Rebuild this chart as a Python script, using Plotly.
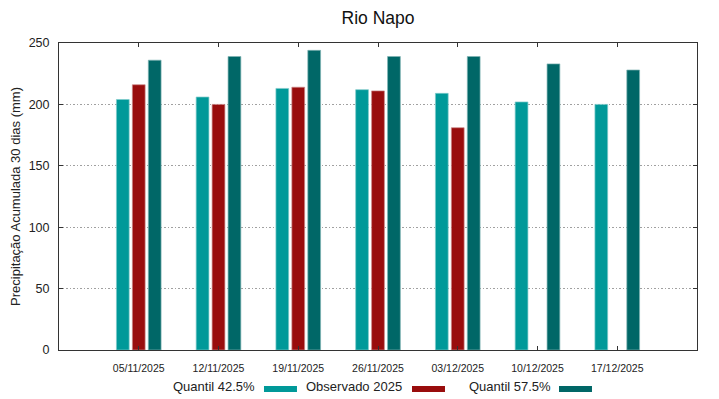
import plotly.graph_objects as go

dates = ["05/11/2025", "12/11/2025", "19/11/2025", "26/11/2025",
         "03/12/2025", "10/12/2025", "17/12/2025"]
q425 = [204, 206, 213, 212, 209, 202, 200]
obs2025 = [216, 200, 214, 211, 181, None, None]
q575 = [236, 239, 244, 239, 239, 233, 228]

series_names = ["Quantil 42.5%", "Observado 2025", "Quantil 57.5%"]
series_vals = [q425, obs2025, q575]
colors = ["#009999", "#990d0d", "#006767"]
edges = ["#7fcccc", "#cc8686", "#7fb3b3"]

title = "Rio Napo"
ytitle = "Precipitação Acumulada 30 dias (mm)"
yticks = [0, 50, 100, 150, 200, 250]

FONT = "Liberation Sans, Arial, sans-serif"

# the page body adds an 8px margin; size the figure so it fits the window
W, H = 711, 391

fig = go.Figure()
for name, vals, c, e in zip(series_names, series_vals, colors, edges):
    fig.add_trace(go.Bar(x=dates, y=vals, name=name,
                         marker=dict(color=c, line=dict(color=e, width=0.7)),
                         showlegend=False))

fig.update_layout(
    width=W, height=H,
    margin=dict(l=51, r=22, t=35, b=49, autoexpand=False),
    paper_bgcolor="white", plot_bgcolor="white",
    barmode="group", bargap=0.4, bargroupgap=0.2,
    font=dict(family=FONT, color="#222222"),
    title=dict(text=title, x=0.5, xref="paper", y=1 - 9.5 / H,
               yref="container", xanchor="center", yanchor="middle",
               font=dict(size=17.5, family=FONT, color="#111111")),
)

fig.update_xaxes(
    type="category", range=[-1, 7],
    showline=True, linecolor="#333333", linewidth=1, mirror="ticks",
    ticks="inside", ticklen=4, tickcolor="#333333",
    showgrid=False, tickfont=dict(size=10.5, family=FONT, color="#222222"),
    ticklabelstandoff=8,
)
fig.update_yaxes(
    range=[0, 250], tickvals=yticks,
    showline=True, linecolor="#333333", linewidth=1, mirror="ticks",
    ticks="inside", ticklen=4, tickcolor="#333333",
    showgrid=True, gridcolor="#a0a0a0", griddash="1.5px,2px", gridwidth=1,
    zeroline=False,
    tickfont=dict(size=12.5, family=FONT, color="#222222"),
    ticklabelstandoff=6,
    title=dict(text=ytitle, font=dict(size=13, family=FONT, color="#222222"),
               standoff=8),
)

# gnuplot-style key: text followed by a sample bar
leg_text_right = [0.3103, 0.5408, 0.7743]
leg_sample = [(0.3213, 0.3730), (0.5533, 0.6050), (0.7837, 0.8354)]
for name, c, xr, (x0, x1) in zip(series_names, colors, leg_text_right, leg_sample):
    fig.add_annotation(text=name, x=xr, y=-0.1205, xref="paper", yref="paper",
                       xanchor="right", yanchor="middle", showarrow=False,
                       font=dict(size=13, family=FONT, color="#222222"))
    fig.add_shape(type="rect", xref="paper", yref="paper",
                  x0=x0, x1=x1, y0=-0.1173, y1=-0.1368,
                  fillcolor=c, line=dict(width=0))

fig.write_html("out.html")
